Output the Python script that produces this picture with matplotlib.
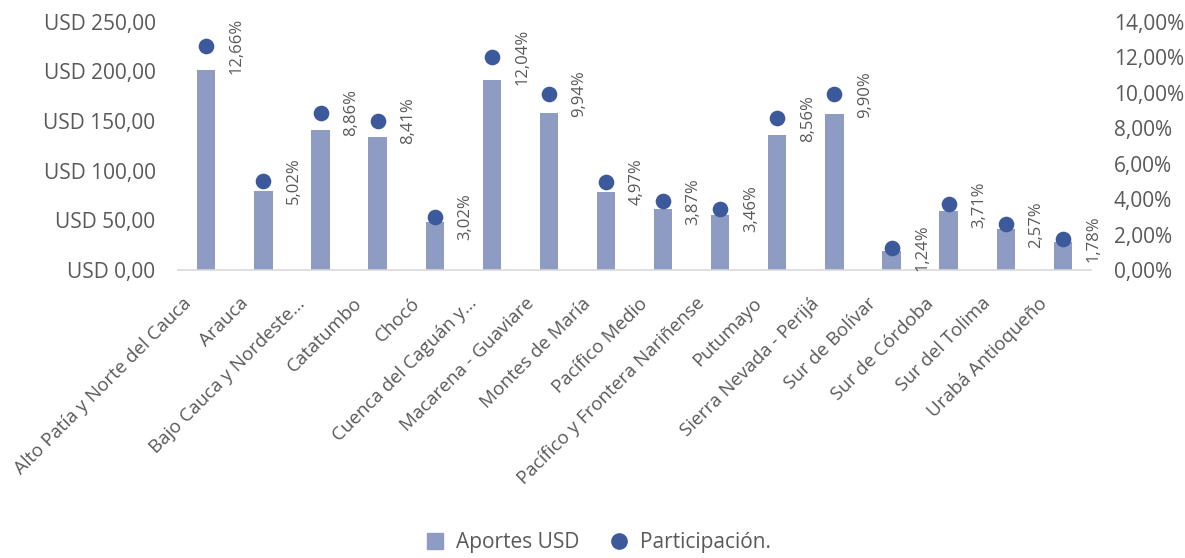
import matplotlib
matplotlib.use("Agg")
import matplotlib.pyplot as plt
import matplotlib.transforms as mtransforms
from matplotlib.lines import Line2D

plt.rcParams['font.family'] = ['Open Sans', 'DejaVu Sans']

# Aportes por subregion PDET
regiones = ["Alto Patía y Norte del Cauca", "Arauca", "Bajo Cauca y Nordeste...",
            "Catatumbo", "Chocó", "Cuenca del Caguán y...", "Macarena - Guaviare",
            "Montes de María", "Pacífico Medio", "Pacífico y Frontera Nariñense",
            "Putumayo", "Sierra Nevada - Perijá", "Sur de Bolívar", "Sur de Córdoba",
            "Sur del Tolima", "Urabá Antioqueño"]
aportes_usd = [201.6, 79.9, 141.1, 133.9, 48.1, 191.7, 158.3, 79.1,
               61.6, 55.1, 136.3, 157.6, 19.7, 59.1, 40.9, 28.3]
participacion = [12.66, 5.02, 8.86, 8.41, 3.02, 12.04, 9.94, 4.97,
                 3.87, 3.46, 8.56, 9.90, 1.24, 3.71, 2.57, 1.78]

usd_ticks = [0, 50, 100, 150, 200, 250]
pct_ticks = [0, 2, 4, 6, 8, 10, 12, 14]

bar_color = "#8E9CC3"
dot_color = "#3C5A9B"
text_color = "#595959"

fig = plt.figure(figsize=(11.85, 5.58), dpi=100)
ax = fig.add_axes([0.150, 0.516, 0.771, 0.445])
x = list(range(len(regiones)))

ax.bar(x, aportes_usd, width=0.32, color=bar_color, zorder=2)
ax.set_xlim(-0.5, len(regiones) - 0.5)
ax.set_ylim(0, 250)
ax.set_yticks(usd_ticks)
ax.set_yticklabels(["USD %d,00" % v for v in usd_ticks])

for s in ["top", "right", "left"]:
    ax.spines[s].set_visible(False)
ax.spines["bottom"].set_color("#D9D9D9")
ax.spines["bottom"].set_linewidth(1.2)

ax.set_xticks(x)
ax.set_xticklabels(regiones, rotation=45, ha="right", va="center",
                   rotation_mode="anchor")
ax.tick_params(axis="x", length=0, pad=22, labelsize=13.5, labelcolor=text_color)
ax.tick_params(axis="y", length=0, pad=16, labelsize=15, labelcolor=text_color)

# shift the slanted category labels a little to the left
shift = mtransforms.ScaledTranslation(-18 / 100, 0, fig.dpi_scale_trans)
for lab in ax.get_xticklabels():
    lab.set_transform(lab.get_transform() + shift)

ax2 = ax.twinx()
ax2.scatter(x, participacion, s=105, color=dot_color, zorder=3)
ax2.set_ylim(0, 14)
ax2.set_yticks(pct_ticks)
ax2.set_yticklabels(["%d,00%%" % v for v in pct_ticks])
ax2.tick_params(axis="y", length=0, pad=16, labelsize=15, labelcolor=text_color)
for s in ax2.spines.values():
    s.set_visible(False)

for xi, p in zip(x, participacion):
    ax2.annotate(("%.2f%%" % p).replace(".", ","), (xi, p), xytext=(22, 0),
                 textcoords="offset points", rotation=90, ha="center", va="center",
                 fontsize=12, color=text_color)

handles = [Line2D([], [], marker="s", linestyle="", color=bar_color, markersize=11.5),
           Line2D([], [], marker="o", linestyle="", color=dot_color, markersize=11)]
fig.legend(handles, ["Aportes USD", "Participación."], loc="lower center",
           bbox_to_anchor=(0.5, -0.025), ncol=2, frameon=False, fontsize=15,
           labelcolor=text_color, handletextpad=0.0, columnspacing=0.9)

fig.savefig("out.png", dpi=100)
